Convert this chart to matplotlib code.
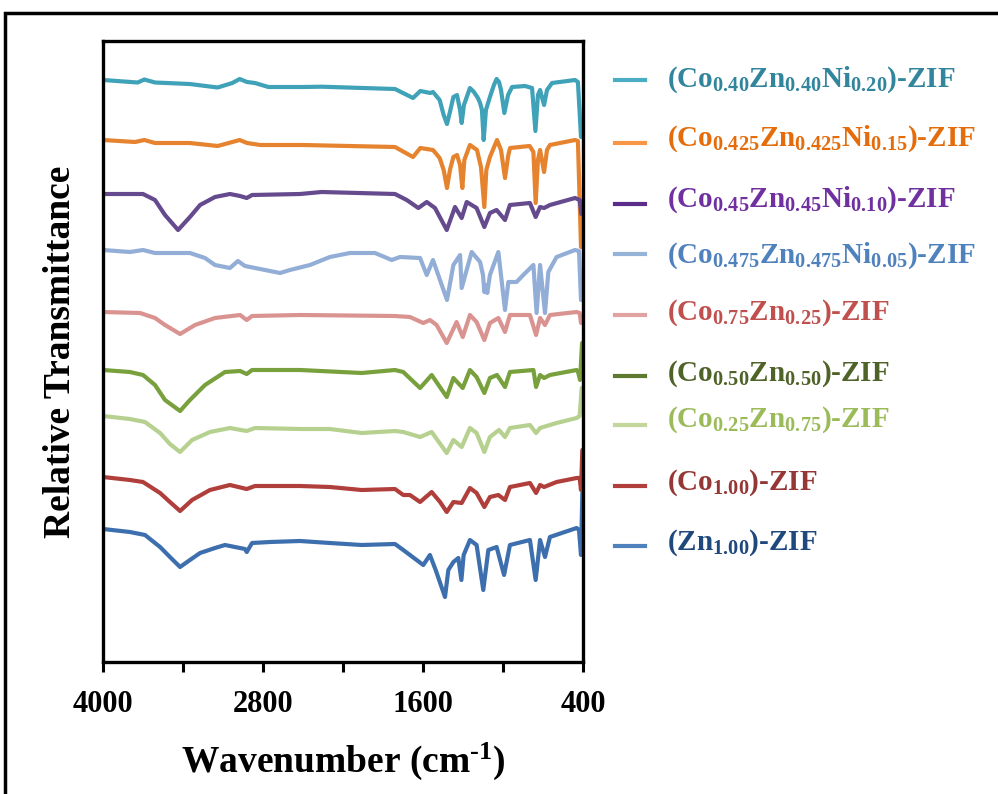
import matplotlib
matplotlib.use("Agg")
import matplotlib.pyplot as plt
from matplotlib.lines import Line2D
from matplotlib.patches import Rectangle

plt.rcParams['font.family'] = ['Liberation Serif', 'DejaVu Serif']
plt.rcParams['font.weight'] = 'bold'
plt.rcParams['mathtext.fontset'] = 'custom'
plt.rcParams['mathtext.rm'] = 'Liberation Serif:bold'
plt.rcParams['mathtext.bf'] = 'Liberation Serif:bold'
plt.rcParams['mathtext.it'] = 'Liberation Serif:bold'
plt.rcParams['mathtext.default'] = 'rm'

# ---------------- data (wavenumber cm-1, relative transmittance a.u.) ----------------
wn_co40 = [4000, 3740, 3690, 3610, 3350, 3140, 3030, 2975, 2920, 2860, 2760, 2500, 2360, 1810, 1675,
           1620, 1545, 1525, 1475, 1445, 1420, 1398, 1372, 1345, 1322, 1310, 1293, 1248, 1218, 1188,
           1172, 1158, 1145, 1128, 1098, 1068, 1048, 1030, 1015, 990, 962, 932, 835, 782, 757,
           738, 722, 692, 670, 632, 460, 438, 415, 400]
t_co40 = [62.0, 61.75, 62.05, 61.75, 61.6, 61.25, 61.7, 62.1, 61.8, 61.7, 61.3, 61.3, 61.33, 61.1, 60.2,
          60.9, 60.7, 60.8, 60.0, 58.5, 57.6, 58.8, 60.3, 60.5, 59.0, 57.7, 59.5, 61.2, 60.8, 60.2,
          59.7, 59.0, 56.0, 59.0, 60.3, 61.5, 62.1, 61.8, 61.0, 58.7, 60.5, 61.3, 61.4, 61.2, 56.9,
          60.5, 61.0, 59.5, 61.0, 61.7, 62.0, 61.8, 56.3, 56.3]

wn_co425 = [4000, 3760, 3690, 3610, 3350, 3140, 3030, 2975, 2920, 2820, 2500, 1810, 1675, 1620, 1525,
            1475, 1445, 1420, 1398, 1372, 1345, 1322, 1305, 1290, 1248, 1195, 1165, 1140, 1125, 1098,
            1045, 1030, 1015, 985, 960, 947, 800, 772, 755, 738, 722, 692, 670, 648, 460,
            438, 415, 400]
t_co425 = [56.0, 55.8, 56.0, 55.7, 55.7, 55.4, 55.8, 56.0, 55.7, 55.5, 55.5, 55.3, 54.3, 55.2, 55.0,
           54.2, 53.0, 51.2, 53.0, 54.3, 54.5, 53.5, 51.2, 54.0, 55.5, 55.0, 53.3, 49.3, 53.0, 54.3,
           56.0, 55.5, 55.0, 52.2, 54.5, 55.2, 55.4, 54.8, 49.7, 54.0, 55.0, 52.8, 55.0, 55.5, 56.0,
           55.9, 45.3, 45.3]

wn_co45 = [4000, 3700, 3610, 3535, 3437, 3348, 3272, 3160, 3048, 2972, 2922, 2882, 2522, 2360, 1810,
           1722, 1635, 1572, 1510, 1422, 1360, 1310, 1272, 1198, 1140, 1098, 1048, 985, 948, 798,
           755, 722, 692, 648, 460, 425, 412, 400]
t_co45 = [50.6, 50.6, 50.0, 48.5, 47.0, 48.3, 49.5, 50.3, 50.6, 50.4, 50.2, 50.5, 50.6, 50.8, 50.6,
          50.0, 49.2, 49.8, 49.2, 47.0, 49.3, 48.2, 49.8, 49.2, 47.3, 48.7, 49.0, 48.0, 49.5, 49.7,
          48.3, 49.3, 49.2, 49.5, 50.2, 50.0, 48.6, 48.6]

wn_co475 = [4000, 3798, 3700, 3610, 3348, 3235, 3160, 3048, 2988, 2935, 2860, 2785, 2672, 2598, 2448,
            2298, 2148, 1960, 1835, 1772, 1622, 1572, 1525, 1420, 1372, 1322, 1310, 1235, 1172, 1150,
            1140, 1128, 1118, 1098, 1035, 985, 960, 898, 848, 772, 748, 722, 685, 660, 598,
            460, 430, 415, 400]
t_co475 = [45.0, 44.8, 45.0, 44.7, 44.7, 44.2, 43.5, 43.2, 43.9, 43.4, 43.2, 43.0, 42.7, 43.0, 43.5,
           44.3, 44.7, 44.7, 44.0, 44.3, 44.2, 42.5, 44.0, 40.0, 43.5, 44.5, 41.2, 44.8, 43.8, 42.5,
           40.8, 41.5, 40.7, 42.5, 44.8, 39.0, 41.8, 41.8, 42.5, 43.5, 38.7, 43.5, 38.7, 42.8, 44.3,
           45.0, 44.9, 40.0, 40.0]

wn_co75 = [4000, 3722, 3610, 3535, 3422, 3310, 3160, 2972, 2922, 2882, 2522, 1810, 1698, 1598, 1548,
           1498, 1422, 1348, 1302, 1248, 1198, 1140, 1098, 1035, 985, 948, 798, 752, 722, 685,
           648, 448, 425, 415, 400]
t_co75 = [38.8, 38.7, 38.2, 37.5, 36.6, 37.5, 38.2, 38.5, 38.0, 38.4, 38.5, 38.4, 38.3, 37.7, 38.0,
          37.5, 35.7, 37.8, 36.3, 38.5, 37.8, 36.0, 37.7, 38.2, 36.8, 38.5, 38.5, 36.5, 38.2, 37.5,
          38.5, 38.8, 38.7, 37.7, 37.7]

wn_co50 = [4000, 3798, 3700, 3610, 3535, 3422, 3348, 3235, 3085, 2972, 2922, 2882, 2522, 2060, 1810,
           1748, 1622, 1535, 1422, 1372, 1302, 1248, 1198, 1140, 1098, 1045, 985, 948, 772, 752,
           722, 692, 648, 448, 437, 422, 407, 400]
t_co50 = [33.0, 32.8, 32.5, 31.5, 30.0, 28.9, 30.0, 31.5, 32.8, 32.9, 32.6, 33.0, 33.0, 32.7, 33.0,
          32.8, 31.2, 32.5, 30.3, 32.2, 31.2, 33.0, 32.3, 30.7, 32.2, 32.5, 31.3, 32.8, 33.0, 31.3,
          32.5, 32.2, 32.5, 33.0, 32.8, 32.0, 35.7, 35.7]

wn_co25 = [4000, 3798, 3685, 3572, 3498, 3422, 3332, 3198, 3048, 2922, 2860, 2522, 2298, 2060, 1810,
           1748, 1622, 1535, 1422, 1372, 1310, 1248, 1198, 1140, 1098, 1030, 985, 948, 798, 752,
           722, 598, 448, 425, 410, 400]
t_co25 = [28.4, 28.1, 27.8, 26.7, 25.6, 24.8, 26.0, 26.8, 27.2, 26.9, 27.2, 27.1, 27.1, 26.7, 26.9,
          26.8, 26.3, 26.8, 24.7, 26.0, 25.3, 27.2, 26.7, 24.8, 26.3, 27.0, 26.3, 27.2, 27.5, 26.7,
          27.2, 27.7, 28.2, 28.4, 31.2, 31.2]

wn_co100 = [4000, 3798, 3700, 3572, 3498, 3422, 3332, 3198, 3048, 2922, 2860, 2522, 2298, 2060, 1810,
            1748, 1698, 1622, 1535, 1472, 1422, 1372, 1310, 1248, 1198, 1140, 1098, 1035, 985, 948,
            798, 752, 722, 692, 598, 448, 425, 415, 405, 400]
t_co100 = [22.3, 22.0, 21.8, 20.7, 19.8, 18.9, 20.0, 21.0, 21.5, 21.1, 21.4, 21.4, 21.3, 21.0, 21.1,
           20.5, 20.5, 19.8, 20.8, 19.8, 18.8, 19.8, 19.7, 21.2, 20.7, 19.3, 20.3, 20.5, 20.0, 21.3,
           21.7, 20.7, 21.5, 21.3, 21.8, 22.2, 22.2, 21.0, 25.0, 25.0]

wn_zn100 = [4000, 3798, 3685, 3572, 3498, 3422, 3348, 3272, 3160, 3085, 3010, 2935, 2922, 2882, 2748,
            2522, 2298, 2060, 1810, 1748, 1698, 1598, 1548, 1505, 1435, 1410, 1372, 1335, 1312, 1295,
            1248, 1198, 1148, 1110, 1048, 992, 948, 798, 755, 722, 685, 648, 448, 430, 415,
            405, 400]
t_zn100 = [17.1, 16.8, 16.5, 15.3, 14.3, 13.3, 14.0, 14.7, 15.2, 15.5, 15.3, 15.1, 14.8, 15.7, 15.8,
           15.9, 15.7, 15.5, 15.6, 15.0, 14.5, 13.5, 14.5, 13.0, 10.3, 13.0, 13.8, 14.2, 12.0, 14.5,
           16.0, 15.5, 11.0, 15.0, 15.3, 12.5, 15.5, 16.0, 12.0, 16.0, 14.3, 16.3, 17.2, 17.0, 14.5,
           20.7, 20.7]

series_labels = [
    r'(Co$_{0.40}$Zn$_{0.40}$Ni$_{0.20}$)-ZIF',
    r'(Co$_{0.425}$Zn$_{0.425}$Ni$_{0.15}$)-ZIF',
    r'(Co$_{0.45}$Zn$_{0.45}$Ni$_{0.10}$)-ZIF',
    r'(Co$_{0.475}$Zn$_{0.475}$Ni$_{0.05}$)-ZIF',
    r'(Co$_{0.75}$Zn$_{0.25}$)-ZIF',
    r'(Co$_{0.50}$Zn$_{0.50}$)-ZIF',
    r'(Co$_{0.25}$Zn$_{0.75}$)-ZIF',
    r'(Co$_{1.00}$)-ZIF',
    r'(Zn$_{1.00}$)-ZIF',
]
x_ticks = [4000, 3400, 2800, 2200, 1600, 1000, 400]
x_ticklabels = ['4000', '', '2800', '', '1600', '', '400']

# ---------------- styles ----------------
series = [(wn_co40, t_co40), (wn_co425, t_co425), (wn_co45, t_co45), (wn_co475, t_co475),
          (wn_co75, t_co75), (wn_co50, t_co50), (wn_co25, t_co25), (wn_co100, t_co100),
          (wn_zn100, t_zn100)]
line_colors = ['#3FA2B8', '#E5832F', '#654A8E', '#93AED6', '#D99491',
               '#78A03C', '#B6D18F', '#B03F3C', '#3D6FAE']
handle_colors = ['#4BACC6', '#F79646', '#5B2C8A', '#95B3D7', '#E0A3A1',
                 '#5E7A2E', '#C3D69B', '#B03F3C', '#4F81BD']
text_colors = ['#31859C', '#E46C0A', '#7030A0', '#4F81BD', '#C0504D',
               '#4F6228', '#9BBB59', '#953735', '#1F497D']

W, H = 998, 794
fig = plt.figure(figsize=(W / 100, H / 100), dpi=100)
ax = fig.add_axes([103 / W, 1 - 662 / H, 480 / W, 621 / H])

for (wn, t), c in zip(series, line_colors):
    ax.plot(wn, t, color=c, lw=3.0, solid_joinstyle='round', solid_capstyle='round')

ax.set_xlim(4000, 400)
ax.set_ylim(3.8, 65.9)
ax.set_xticks(x_ticks)
ax.set_xticklabels(x_ticklabels)
ax.set_yticks([])
ax.tick_params(axis='x', direction='out', length=7, width=2.2, pad=13, labelsize=22)
for lab in ax.get_xticklabels():
    lab.set_fontweight('bold')
for sp in ax.spines.values():
    sp.set_linewidth(2.4)
ax.set_xlabel(r'Wavenumber (cm$^{\text{-}1}$)', fontsize=27, fontweight='bold', labelpad=16)
ax.set_ylabel('Relative Transmittance', fontsize=27, fontweight='bold', labelpad=18)

# legend (manually placed entries)
handle_y = [80, 143, 204, 254, 315, 376, 425, 486, 546]
text_y = [80, 139, 200, 256, 313, 374, 420, 483, 543]
for hy, ty, lab, hc, tc in zip(handle_y, text_y, series_labels, handle_colors, text_colors):
    fig.add_artist(Line2D([615 / W, 645 / W], [1 - hy / H, 1 - hy / H], color=hc, lw=3,
                          transform=fig.transFigure))
    fig.text(667 / W, 1 - ty / H, lab, color=tc, fontsize=21, fontweight='bold',
             ha='left', va='center')

# figure frame
fig.add_artist(Rectangle((5 / W, -0.05), 1.1, 1 - 13 / H + 0.05, transform=fig.transFigure,
                         fill=False, edgecolor='black', lw=2.5))

fig.savefig('out.png', dpi=100)
